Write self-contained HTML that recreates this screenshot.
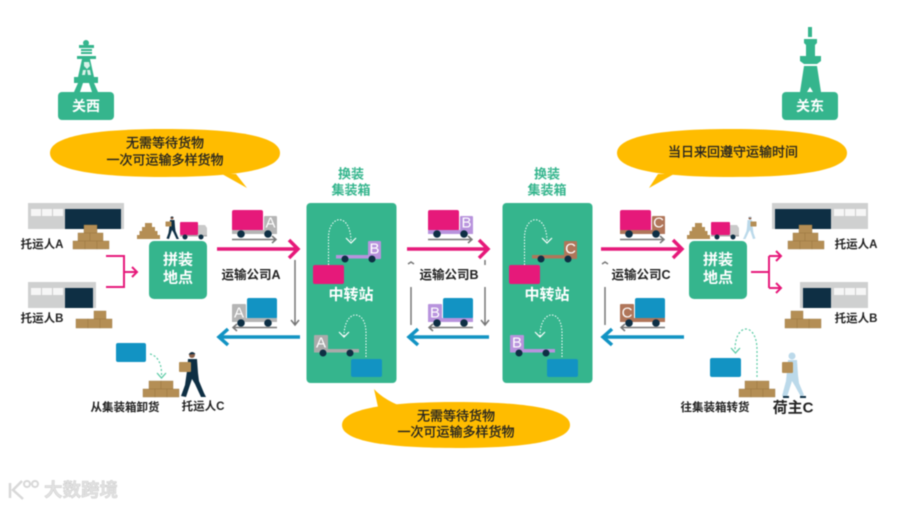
<!DOCTYPE html>
<html><head><meta charset="utf-8"><style>
html,body{margin:0;padding:0;background:#fff;width:900px;height:507px;overflow:hidden}
svg{display:block;filter:blur(.45px)}
text{font-family:"Liberation Sans","Noto Sans CJK SC",sans-serif;text-anchor:middle;dominant-baseline:central}
.k{fill:#222;font-size:11.500px;font-weight:700}
.b{fill:#222;font-size:13px;font-weight:400;stroke:#222;stroke-width:.3}
.t{fill:#222;font-size:12.500px;font-weight:700}
.w{fill:#fff;font-size:15px;font-weight:700}
.g{fill:#35B58D;font-size:13px;font-weight:700}
.l{fill:#fff;font-size:14px;font-weight:700}
.h{fill:#fff;font-size:15px}
.s{fill:#fff;font-size:15px}
.p{fill:none;stroke:#E6197A;stroke-width:3.5}
.p2{fill:none;stroke:#E6197A;stroke-width:2}
.c{fill:none;stroke:#1293C3;stroke-width:3.5}
.y{fill:none;stroke:#777;stroke-width:1.5}
.d{fill:none;stroke:#fff;stroke-width:1;stroke-dasharray:1.500 1.500}
.e{fill:none;stroke:#5CCBA6;stroke-width:1.2;stroke-dasharray:2 2}
.a{fill:none;stroke:#fff;stroke-width:1.2}
.a2{fill:none;stroke:#5CCBA6;stroke-width:1.3}
</style></head><body>
<svg width="900" height="507" viewBox="0 0 900 507" xmlns="http://www.w3.org/2000/svg">
<defs>
<g id="truckR">
<rect x="0" y="0" width="31" height="21" rx="2" fill="#E6197A"/>
<rect x="32" y="6" width="13" height="17" rx="1" style="fill:var(--c)"/>
<rect x="0" y="20" width="45" height="4" style="fill:var(--c)"/>
<circle cx="9" cy="24" r="3.800" fill="#0E2F44"/><circle cx="36" cy="24" r="3.800" fill="#0E2F44"/>
<path d="M0 29.500H44M40 26l4 3.500-4 3.500" class="y"/>
</g>
<g id="truckL">
<rect x="15" y="0" width="30" height="21" rx="2" fill="#1293C3"/>
<rect x="0" y="6" width="14" height="17" rx="1" style="fill:var(--c)"/>
<rect x="0" y="20" width="45" height="4" style="fill:var(--c)"/>
<circle cx="9" cy="25" r="3.800" fill="#0E2F44"/><circle cx="36" cy="25" r="3.800" fill="#0E2F44"/>
<path d="M1 29.500H45M5 26l-4 3.500 4 3.500" class="y"/>
</g>
<g id="man">
<circle cx="10" cy="4" r="3" fill="#8a5f48"/><path d="M6.500 3.500Q10 -1 13.500 3z" style="fill:var(--m)"/>
<path d="M6 8L15 8L16 22L17 30L22 42L24 46L19 46L13 33L10 28L6 40L4 46L-1 45L3 34L5 20Z" style="fill:var(--m)"/>
<rect x="-3" y="11" width="12" height="10" rx="1" fill="#B48E55"/>
</g>
<g id="pile3" fill="#B48E55" stroke="#98773f" stroke-width=".4">
<rect x="11" y="0" width="13" height="8"/>
<rect x="5" y="8" width="12" height="8"/><rect x="17" y="8" width="13" height="8"/>
<rect x="0" y="16" width="12" height="8"/><rect x="12" y="16" width="12" height="8"/><rect x="24" y="16" width="12" height="8"/>
</g>
<g id="pile2" fill="#B48E55" stroke="#98773f" stroke-width=".4">
<rect x="6" y="0" width="12" height="8"/><rect x="18" y="0" width="12" height="8"/>
<rect x="0" y="8" width="12" height="8"/><rect x="12" y="8" width="12" height="8"/><rect x="24" y="8" width="12" height="8"/>
</g>
<g id="pileB" fill="#B48E55" stroke="#98773f" stroke-width=".4">
<rect x="18" y="0" width="12" height="8"/>
<rect x="0" y="8" width="12" height="9"/><rect x="12" y="8" width="12" height="9"/><rect x="24" y="8" width="12" height="9"/>
</g>
<g id="mini" fill="#B48E55">
<rect x="8" y="0" width="7" height="4"/><rect x="5" y="4" width="13" height="4"/><rect x="2.500" y="8" width="18" height="4"/><rect x="0" y="12" width="23" height="4"/>
</g>
<g id="win"><rect x="0" y="0" width="32" height="7" fill="#fff" opacity=".8"/><path d="M10.500 0v7M21.500 0v7" stroke="#ccc" stroke-width="1"/></g>
</defs>

<!-- left tower -->
<g fill="#35B58D">
<circle cx="86" cy="43" r="3"/><rect x="79" y="45" width="15" height="3"/>
<rect x="81" y="49" width="11" height="2"/><rect x="81" y="52" width="11" height="2"/>
<rect x="77" y="56" width="19" height="3"/>
<path d="M82 59H90L94 77H78Z"/>
<path d="M84 62h5l1 4-3 3-3-3zM83 70h3l-1 5h-3zM87 70h3l1 5h-3z" fill="#d9f2e9"/>
<rect x="74" y="77" width="24" height="6"/>
<path d="M78 83H83L80 92H74ZM89 83H94L98 92H92Z"/>
<rect x="58" y="92" width="56" height="28" rx="4"/>
</g>
<text x="86" y="106" class="l">关西</text>

<!-- right tower -->
<g fill="#35B58D">
<rect x="808" y="27" width="4" height="10"/>
<path d="M804 39H817V43L815 45V56H806V45L804 43Z"/>
<path d="M800 56H821V61L817 64H804L800 61Z"/>
<path d="M804 66H817L821 92H800Z"/>
<rect x="782" y="92" width="56" height="28" rx="4"/>
</g>
<path d="M810 87L807 92H813Z" fill="#fff"/>
<text x="810" y="106" class="l">关东</text>

<!-- bubbles -->
<g fill="#FFBC00">
<path d="M50 153C50 135 100 129 165 129C230 129 280 135 280 153C280 171 230 177 165 177C100 177 50 171 50 153Z"/><path d="M222 174L247 188L236 174Z"/>
<path d="M617 153C617 135 667 129 732 129C797 129 847 135 847 153C847 171 797 177 732 177C667 177 617 171 617 153Z"/><path d="M658 174L649 188L674 174Z"/>
<path d="M342 425C342 408 391 402 456 402C521 402 570 408 570 425C570 442 521 448 456 448C391 448 342 442 342 425Z"/><path d="M398 405Q382 398 374 389L378 407Z"/>
</g>
<text x="165" y="143" class="b">无需等待货物</text>
<text x="165" y="160" class="b">一次可运输多样货物</text>
<text x="733" y="152" class="b">当日来回遵守运输时间</text>
<text x="456" y="416" class="b">无需等待货物</text>
<text x="456" y="432" class="b">一次可运输多样货物</text>

<!-- left buildings -->
<rect x="28" y="203" width="96" height="26" fill="#cfd0d0"/>
<rect x="65" y="209" width="56" height="20" fill="#0E2F44"/>
<use href="#win" x="31" y="209"/>
<use href="#pile3" x="73" y="225"/>
<text x="42" y="245" class="k">托运人A</text>
<rect x="28" y="282" width="68" height="26" fill="#cfd0d0"/>
<rect x="65" y="288" width="28" height="20" fill="#0E2F44"/>
<use href="#win" x="31" y="288"/>
<use href="#pileB" x="76" y="311"/>
<text x="42" y="319" class="k">托运人B</text>
<path d="M106 256H124V287H106M124 272H137M132 267l5 5-5 5" class="p2"/>

<!-- left consolidation -->
<rect x="149" y="241" width="58" height="58" rx="5" fill="#35B58D"/>
<text x="178" y="260" class="w">拼装</text><text x="178" y="278" class="w">地点</text>
<use href="#mini" x="137" y="223"/>
<use href="#man" transform="translate(167 216) scale(.5)" style="--m:#0E2F44"/>
<rect x="180" y="222" width="18" height="13" rx="1" fill="#E6197A"/>
<path d="M198 225H205L207 228V235H198Z" fill="#c9c9c9"/>
<rect x="180" y="235" width="27" height="1.500" fill="#aaa"/>
<circle cx="185" cy="237" r="2.500" fill="#0E2F44"/><circle cx="201" cy="237" r="2.500" fill="#0E2F44"/>

<!-- A section -->
<use href="#truckR" x="232" y="210" style="--c:#b5b5b5"/>
<text x="270.500" y="223" class="h">A</text>
<path d="M217 249H297M289 240l9 9-9 9" class="p"/>
<text x="251" y="275" class="t">运输公司A</text>
<path d="M295 260V324M291 320l4 5 4-5" class="y"/>
<use href="#truckL" x="232" y="298" style="--c:#b5b5b5"/>
<text x="239" y="313" class="h">A</text>
<path d="M300 337H220M228 329l-9 8 9 8" class="c"/>

<!-- hub 1 -->
<text x="351" y="174" class="g">换装</text><text x="351" y="190" class="g">集装箱</text>
<rect x="306.500" y="203" width="90" height="180" rx="4" fill="#35B58D"/>
<path d="M328.500 265V238C328.500 214 351 212 351 242" class="d"/>
<path d="M346 238l5 5 5-5" class="a"/>
<rect x="336" y="255" width="45" height="3.500" fill="#B893DD"/>
<rect x="368" y="241" width="13" height="18" rx="1" fill="#B893DD"/>
<text x="374.500" y="249" class="s">B</text>
<circle cx="345" cy="259" r="3.500" fill="#0E2F44"/><circle cx="372" cy="259" r="3.500" fill="#0E2F44"/>
<rect x="313" y="265" width="31" height="19" rx="2" fill="#E6197A"/>
<text x="351" y="295" class="w">中转站</text>
<path d="M366 357V333C366 308 344 309 344 336" class="d"/>
<path d="M339 332l5 5 5-5" class="a"/>
<rect x="314" y="349" width="45" height="3.500" fill="#aaa"/>
<rect x="314" y="335" width="14" height="17" rx="1" fill="#aaa"/>
<text x="321" y="343" class="s">A</text>
<circle cx="323" cy="353" r="3.500" fill="#0E2F44"/><circle cx="350" cy="353" r="3.500" fill="#0E2F44"/>
<rect x="351" y="359" width="31" height="18" rx="2" fill="#1293C3"/>

<!-- B section -->
<use href="#truckR" x="428" y="210" style="--c:#B893DD"/>
<text x="466.500" y="223" class="h">B</text>
<path d="M407 249H487M479 240l9 9-9 9" class="p"/>
<text x="449" y="275" class="t">运输公司B</text>
<path d="M408 264l3-2 3 2" class="y"/>
<path d="M411 287V325" class="y"/>
<path d="M485 287V324M481 320l4 5 4-5M485 260V265" class="y"/>
<use href="#truckL" x="428" y="298" style="--c:#B893DD"/>
<text x="435" y="313" class="h">B</text>
<path d="M489 337H410M418 329l-9 8 9 8" class="c"/>

<!-- hub 2 -->
<text x="547" y="174" class="g">换装</text><text x="547" y="190" class="g">集装箱</text>
<rect x="502.500" y="203" width="90" height="180" rx="4" fill="#35B58D"/>
<path d="M524.500 265V238C524.500 214 547 212 547 242" class="d"/>
<path d="M542 238l5 5 5-5" class="a"/>
<rect x="532" y="255" width="45" height="3.500" fill="#B0765A"/>
<rect x="564" y="241" width="13" height="18" rx="1" fill="#B0765A"/>
<text x="570.500" y="249" class="s">C</text>
<circle cx="541" cy="259" r="3.500" fill="#0E2F44"/><circle cx="568" cy="259" r="3.500" fill="#0E2F44"/>
<rect x="509" y="265" width="31" height="19" rx="2" fill="#E6197A"/>
<text x="547" y="295" class="w">中转站</text>
<path d="M562 357V333C562 308 540 309 540 336" class="d"/>
<path d="M535 332l5 5 5-5" class="a"/>
<rect x="510" y="349" width="45" height="3.500" fill="#B893DD"/>
<rect x="510" y="335" width="14" height="17" rx="1" fill="#B893DD"/>
<text x="517" y="343" class="s">B</text>
<circle cx="519" cy="353" r="3.500" fill="#0E2F44"/><circle cx="546" cy="353" r="3.500" fill="#0E2F44"/>
<rect x="547" y="359" width="31" height="18" rx="2" fill="#1293C3"/>

<!-- C section -->
<use href="#truckR" x="620" y="210" style="--c:#B0765A"/>
<text x="658.500" y="223" class="h">C</text>
<path d="M601 249H681M673 240l9 9-9 9" class="p"/>
<text x="641" y="275" class="t">运输公司C</text>
<path d="M602 264l3-2 3 2" class="y"/>
<path d="M605 287V325" class="y"/>
<use href="#truckL" x="620" y="298" style="--c:#B0765A"/>
<text x="627" y="313" class="h">C</text>
<path d="M684 337H604M612 329l-9 8 9 8" class="c"/>

<!-- right consolidation -->
<rect x="689" y="241" width="58" height="58" rx="5" fill="#35B58D"/>
<text x="718" y="260" class="w">拼装</text><text x="718" y="278" class="w">地点</text>
<use href="#mini" x="687" y="223"/>
<rect x="711" y="222" width="19" height="13" rx="1" fill="#E6197A"/>
<path d="M730 225H737L739 228V235H730Z" fill="#c9c9c9"/>
<rect x="711" y="235" width="28" height="1.500" fill="#aaa"/>
<circle cx="717" cy="237" r="2.500" fill="#0E2F44"/><circle cx="733" cy="237" r="2.500" fill="#0E2F44"/>
<g transform="translate(755 216) scale(-.5 .5)" style="--m:#BBD9EA"><use href="#man"/></g>

<path d="M751 272H769M769 256V288M769 256H781M769 288H781M776 251l5 5-5 5M776 283l5 5-5 5" class="p2"/>

<!-- right buildings -->
<rect x="772" y="203" width="96" height="26" fill="#cfd0d0"/>
<rect x="775" y="209" width="56" height="20" fill="#0E2F44"/>
<use href="#win" x="834" y="209"/>
<use href="#pile3" x="788" y="225"/>
<text x="856" y="245" class="k">托运人A</text>
<rect x="800" y="282" width="68" height="26" fill="#cfd0d0"/>
<rect x="803" y="288" width="28" height="20" fill="#0E2F44"/>
<use href="#win" x="834" y="288"/>
<use href="#pileB" transform="translate(821 311) scale(-1 1)"/>
<text x="856" y="319" class="k">托运人B</text>

<!-- lower left -->
<rect x="116" y="343" width="30" height="19" rx="2" fill="#1293C3"/>
<path d="M150 354C158 356 162 364 161.500 376" class="e"/>
<path d="M157 373l4.500 5 4.500-5" class="a2"/>
<use href="#pile2" x="143" y="381"/>
<use href="#man" transform="translate(182 351)" style="--m:#0E2F44"/>
<text x="125" y="408" class="k">从集装箱卸货</text>
<text x="203" y="407" class="k">托运人C</text>

<!-- lower right -->
<rect x="710" y="358" width="31" height="19" rx="2" fill="#1293C3"/>
<path d="M757 377V350C757 322 735 322 735 350" class="e"/>
<path d="M731 348l4.500 5 4.500-5" class="a2"/>
<use href="#pile2" x="739" y="381"/>
<g transform="translate(782 351)">
<circle cx="10" cy="5" r="3.500" fill="#BBD9EA"/>
<path d="M6 9L15 9L16 24L17 32L22 44L19 46L13 35L10 30L5 46L0 45L4 30L5 20Z" fill="#BBD9EA"/>
<rect x="0" y="11" width="11" height="11" rx="1" fill="#B48E55"/>
<rect x="1" y="45" width="6" height="2" fill="#0E2F44"/><rect x="18" y="45" width="6" height="2" fill="#0E2F44"/>
</g>
<text x="715" y="408" class="k">往集装箱转货</text>
<text x="793" y="408" fill="#222" style="font-size:15px;font-weight:700">荷主C</text>

<!-- watermark -->
<g fill="none" stroke="#d8d8d8" stroke-width="2.500">
<path d="M10 483V498M22 481L13 490L23 499"/>
<circle cx="27" cy="484" r="3" stroke-width="2"/><circle cx="35" cy="484" r="3" stroke-width="2"/>
</g>
<text x="81" y="490" fill="#e2e2e2" stroke="#cfcfcf" stroke-width=".5" style="font-size:18.500px;font-weight:700">大数跨境</text>
</svg>
</body></html>
